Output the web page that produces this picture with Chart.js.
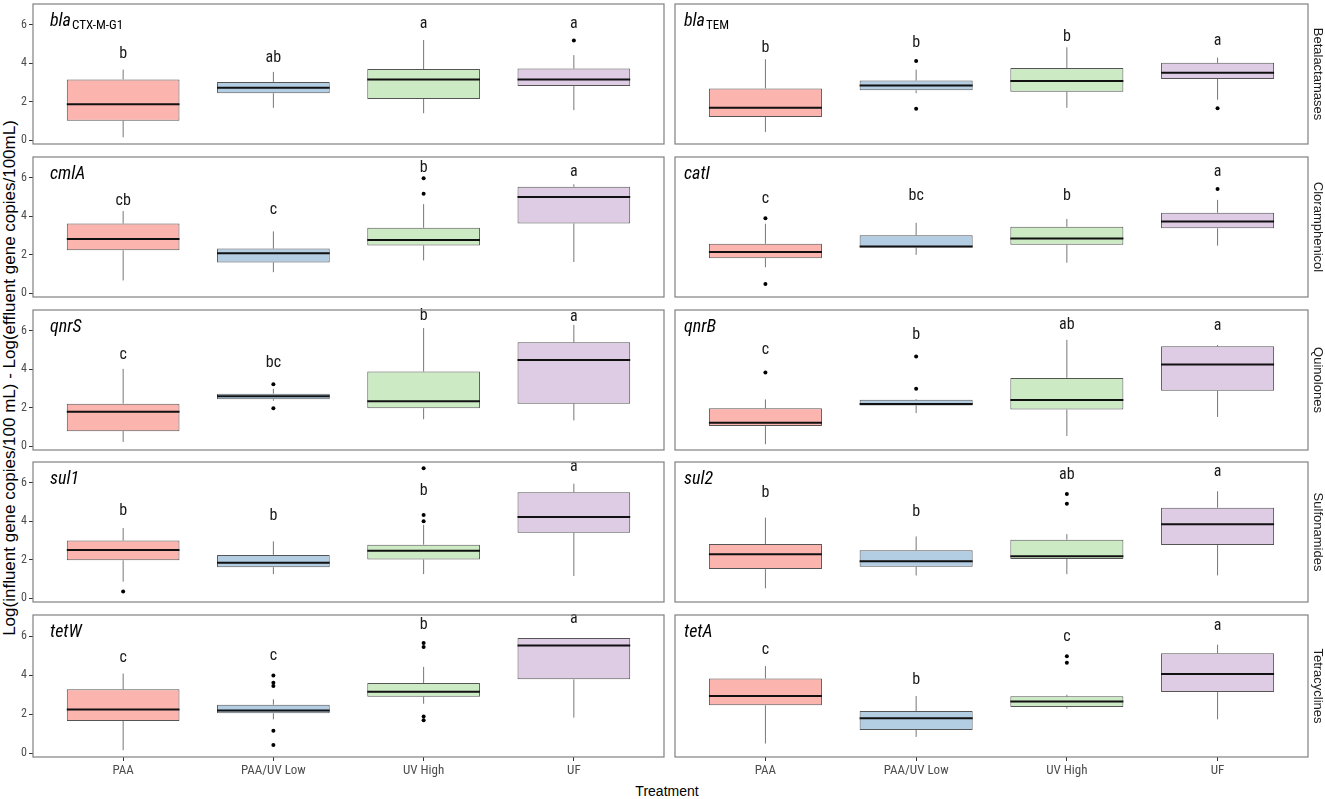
<!DOCTYPE html>
<html>
<head>
<meta charset="utf-8">
<title>ARG removal by treatment</title>
<script src="https://cdn.jsdelivr.net/npm/chart.js@4.4.1/dist/chart.umd.min.js"></script>
<style>
  html, body { margin: 0; padding: 0; background: #fff; }
  body { width: 1325px; height: 799px; position: relative; overflow: hidden;
         font-family: 'Liberation Sans', Arial, sans-serif; }
  canvas { position: absolute; }
  #ytitle { position: absolute; left: 10px; top: 378px; white-space: nowrap; font-size: 17px; color: #000;
            transform: translate(-50%, -50%) rotate(-90deg); }
  #xtitle { position: absolute; left: 667px; top: 791px; white-space: nowrap; font-size: 14px; color: #000;
            transform: translate(-50%, -50%); }
</style>
</head>
<body>
<div id="ytitle">Log(influent gene copies/100 mL) - Log(effluent gene copies/100mL)</div>
<div id="xtitle">Treatment</div>
<script>
// categories and facets
const TREATMENTS = ['PAA', 'PAA/UV Low', 'UV High', 'UF'];
const GENES = ['bla', 'bla', 'cmlA', 'catI', 'qnrS', 'qnrB', 'sul1', 'sul2', 'tetW', 'tetA'];
const GENE_SUB = ['CTX-M-G1', 'TEM', '', '', '', '', '', '', '', ''];
const CLASSES = ['Betalactamases', 'Cloramphenicol', 'Quinolones', 'Sulfonamides', 'Tetracyclines'];

// box statistics per panel (row by row, left then right), one value per treatment
const WHISKER_LOW = [
  [0.15, 1.68, 1.40, 1.56], [0.42, 2.44, 1.68, 2.10],
  [0.66, 1.09, 1.70, 1.62], [1.35, 1.99, 1.58, 2.47],
  [0.22, 2.36, 1.40, 1.34], [0.10, 1.72, 0.53, 1.52],
  [0.86, 1.25, 1.25, 1.15], [0.51, 1.18, 1.25, 1.18],
  [0.15, 1.73, 2.53, 1.82], [0.49, 0.83, 2.28, 1.73]
];
const Q1 = [
  [1.01, 2.44, 2.14, 2.81], [1.21, 2.59, 2.52, 3.18],
  [2.23, 1.60, 2.48, 3.62], [1.82, 2.37, 2.52, 3.37],
  [0.78, 2.44, 1.97, 2.21], [1.05, 2.12, 1.90, 2.88],
  [1.97, 1.61, 2.01, 3.40], [1.51, 1.63, 2.04, 2.76],
  [1.65, 2.04, 2.89, 3.78], [2.45, 1.19, 2.36, 3.13]
];
const MEDIAN = [
  [1.87, 2.72, 3.15, 3.16], [1.68, 2.84, 3.08, 3.50],
  [2.81, 2.08, 2.76, 5.00], [2.14, 2.43, 2.84, 3.72],
  [1.79, 2.59, 2.33, 4.48], [1.22, 2.19, 2.40, 4.24],
  [2.50, 1.84, 2.47, 4.22], [2.28, 1.92, 2.18, 3.84],
  [2.24, 2.18, 3.15, 5.51], [2.93, 1.79, 2.64, 4.06]
];
const Q3 = [
  [3.16, 3.03, 3.70, 3.72], [2.69, 3.10, 3.75, 4.02],
  [3.62, 2.32, 3.40, 5.53], [2.57, 3.01, 3.45, 4.18],
  [2.21, 2.73, 3.88, 5.40], [1.97, 2.41, 3.55, 5.19],
  [3.00, 2.25, 2.78, 5.51], [2.81, 2.49, 3.04, 4.70],
  [3.27, 2.48, 3.59, 5.90], [3.83, 2.16, 2.91, 5.12]
];
const WHISKER_HIGH = [
  [3.67, 3.55, 5.21, 4.42], [4.21, 3.67, 4.83, 4.29],
  [4.27, 3.21, 4.63, 5.66], [3.61, 3.66, 3.86, 4.85],
  [4.02, 2.98, 6.14, 6.31], [2.43, 2.45, 5.53, 5.26],
  [3.65, 2.95, 3.81, 5.95], [4.19, 3.21, 3.33, 5.56],
  [4.08, 2.76, 4.42, 5.90], [4.46, 2.93, 2.99, 5.56]
];
const OUTLIERS = [
  [[], [], [], [5.18]], [[], [4.12, 1.63], [], [1.66]],
  [[], [], [5.97, 5.17], []], [[3.90, 0.48], [], [], [5.41]],
  [[], [3.22, 1.97], [], []], [[3.83], [4.66, 2.98], [], []],
  [[0.34], [], [4.32, 4.00, 6.76], []], [[], [], [5.42, 4.91], []],
  [[], [3.98, 3.61, 3.44, 1.14, 0.41], [5.65, 5.44, 1.87, 1.68], []], [[], [], [4.97, 4.63], []]
];
// significance letters and their heights
const LETTERS = [
  ['b', 'ab', 'a', 'a'], ['b', 'b', 'b', 'a'],
  ['cb', 'c', 'b', 'a'], ['c', 'bc', 'b', 'a'],
  ['c', 'bc', 'b', 'a'], ['c', 'b', 'ab', 'a'],
  ['b', 'b', 'b', 'a'], ['b', 'b', 'ab', 'a'],
  ['c', 'c', 'b', 'a'], ['c', 'b', 'c', 'a']
];
const LETTER_Y = [
  [4.49, 4.29, 6.05, 6.02], [4.79, 5.04, 5.38, 5.16],
  [4.80, 4.34, 6.50, 6.28], [4.88, 5.05, 5.05, 6.28],
  [4.76, 4.34, 6.78, 6.72], [5.00, 5.79, 6.31, 6.26],
  [4.55, 4.29, 5.57, 6.83], [5.45, 4.46, 6.38, 6.55],
  [4.88, 5.00, 6.55, 6.87], [5.31, 3.74, 5.94, 6.50]
];

// look
const BOX_FILL = ['#fbb4ae', '#b3cde3', '#ccebc5', '#decbe4'];
const NARROW = "'Liberation Sans Narrow', 'Roboto Condensed', 'Liberation Sans', Arial, sans-serif";
const Y_MIN = -0.2, Y_MAX = 7.08;
const HALF_BOX = 0.375;
const COL_LEFT = [33, 673], COL_RIGHT = [666, 1308];
const ROW_TOP0 = 1.7, ROW_PITCH = 152.9, PANEL_H = 144;
const PAD = 2;

function noEdgePadding(s) {
  s.paddingTop = 0; s.paddingBottom = 0; s.paddingLeft = 0; s.paddingRight = 0;
}

function decor(p, col) {
  return {
    id: 'decor' + p,
    afterDatasetsDraw(chart) {
      const { ctx, chartArea: a, scales: { x, y } } = chart;
      ctx.save();
      ctx.fillStyle = '#1a1a1a';
      ctx.font = '16px ' + NARROW;
      ctx.textAlign = 'center';
      ctx.textBaseline = 'middle';
      LETTERS[p].forEach((t, i) => ctx.fillText(t, x.getPixelForValue(i + 1), y.getPixelForValue(LETTER_Y[p][i])));

      // gene name, italic, with optional subscript
      const gx = a.left + (col === 0 ? 17 : 9);
      const gy = y.getPixelForValue(5.95);
      ctx.textAlign = 'left';
      ctx.textBaseline = 'alphabetic';
      ctx.fillStyle = '#000';
      ctx.font = 'italic 18px ' + NARROW;
      ctx.fillText(GENES[p], gx, gy);
      if (GENE_SUB[p]) {
        const w = ctx.measureText(GENES[p]).width;
        ctx.font = '13px ' + NARROW;
        ctx.fillText(GENE_SUB[p], gx + w + 1, gy + 3);
      }

      ctx.strokeStyle = '#808080';
      ctx.lineWidth = 1.2;
      ctx.strokeRect(a.left, a.top, a.right - a.left, a.bottom - a.top);
      ctx.restore();
    }
  };
}

function makePanel(p) {
  const row = Math.floor(p / 2), col = p % 2;
  const bottom = row === CLASSES.length - 1;
  const top = ROW_TOP0 + row * ROW_PITCH;
  const xAxisH = 26;

  const canvas = document.createElement('canvas');
  const left = col === 0 ? 0 : COL_LEFT[1] - PAD;
  const width = col === 0 ? COL_RIGHT[0] + PAD : 1325 - left;
  const height = PANEL_H + PAD + (bottom ? xAxisH : PAD);
  canvas.width = width;
  canvas.height = height;
  canvas.style.left = left + 'px';
  canvas.style.top = (top - PAD) + 'px';
  canvas.style.width = width + 'px';
  canvas.style.height = height + 'px';
  document.body.appendChild(canvas);

  const datasets = [
    {
      type: 'bar',
      data: TREATMENTS.map((t, i) => ({ x: i + 1, y: [Q1[p][i], Q3[p][i]] })),
      backgroundColor: BOX_FILL,
      borderColor: '#555555',
      borderWidth: 1,
      borderSkipped: false,
      barPercentage: 0.75,
      categoryPercentage: 1,
      order: 2
    },
    {
      type: 'line',
      data: TREATMENTS.flatMap((t, i) => [
        { x: i + 1, y: WHISKER_LOW[p][i] }, { x: i + 1, y: Q1[p][i] }, { x: i + 1, y: null },
        { x: i + 1, y: Q3[p][i] }, { x: i + 1, y: WHISKER_HIGH[p][i] }, { x: i + 1, y: null }
      ]),
      borderColor: '#777777',
      borderWidth: 1,
      pointRadius: 0,
      spanGaps: false,
      order: 3
    },
    {
      type: 'line',
      data: TREATMENTS.flatMap((t, i) => [
        { x: i + 1 - HALF_BOX, y: MEDIAN[p][i] }, { x: i + 1 + HALF_BOX, y: MEDIAN[p][i] }, { x: i + 1, y: null }
      ]),
      borderColor: '#111111',
      borderWidth: 2,
      pointRadius: 0,
      spanGaps: false,
      order: 1
    },
    {
      type: 'scatter',
      data: OUTLIERS[p].flatMap((list, i) => list.map(v => ({ x: i + 1, y: v }))),
      backgroundColor: '#000',
      borderWidth: 0,
      pointRadius: 2,
      order: 0
    }
  ];

  const scales = {
    x: {
      type: 'linear',
      min: 0.4,
      max: 4.6,
      offset: false,
      display: bottom,
      afterBuildTicks: s => { s.ticks = TREATMENTS.map((t, i) => ({ value: i + 1 })); },
      afterFit: s => { noEdgePadding(s); if (bottom) s.height = xAxisH; },
      grid: { drawOnChartArea: false, drawTicks: true, tickLength: 4, color: '#333', offset: false },
      border: { display: false },
      ticks: {
        autoSkip: false, maxRotation: 0, padding: 2, color: '#4d4d4d',
        font: { family: NARROW, size: 13 },
        callback: (v, i) => TREATMENTS[i]
      }
    },
    y: {
      type: 'linear',
      min: Y_MIN,
      max: Y_MAX,
      display: col === 0,
      afterFit: s => { noEdgePadding(s); if (col === 0) s.width = COL_LEFT[0]; },
      grid: { drawOnChartArea: false, drawTicks: true, tickLength: 4, color: '#333' },
      border: { display: false },
      ticks: { stepSize: 2, includeBounds: false, padding: 2, color: '#4d4d4d', font: { family: NARROW, size: 12 } }
    }
  };
  if (col === 1) {
    scales.strip = {
      type: 'linear',
      position: 'right',
      min: 0,
      max: 1,
      afterFit: s => { noEdgePadding(s); s.width = 1325 - COL_RIGHT[1]; },
      grid: { display: false },
      border: { display: false },
      ticks: { display: false },
      title: { display: true, text: CLASSES[row], color: '#1a1a1a', padding: 0,
               font: { family: "'Liberation Sans', Arial, sans-serif", size: 13 } }
    };
  }

  new Chart(canvas, {
    type: 'bar',
    data: { datasets },
    options: {
      responsive: false,
      animation: false,
      layout: { padding: { top: PAD, bottom: bottom ? 0 : PAD, left: 0, right: col === 0 ? PAD : 0 } },
      plugins: { legend: { display: false }, tooltip: { enabled: false } },
      scales
    },
    plugins: [decor(p, col)]
  });
}

GENES.forEach((g, p) => makePanel(p));
</script>
</body>
</html>
